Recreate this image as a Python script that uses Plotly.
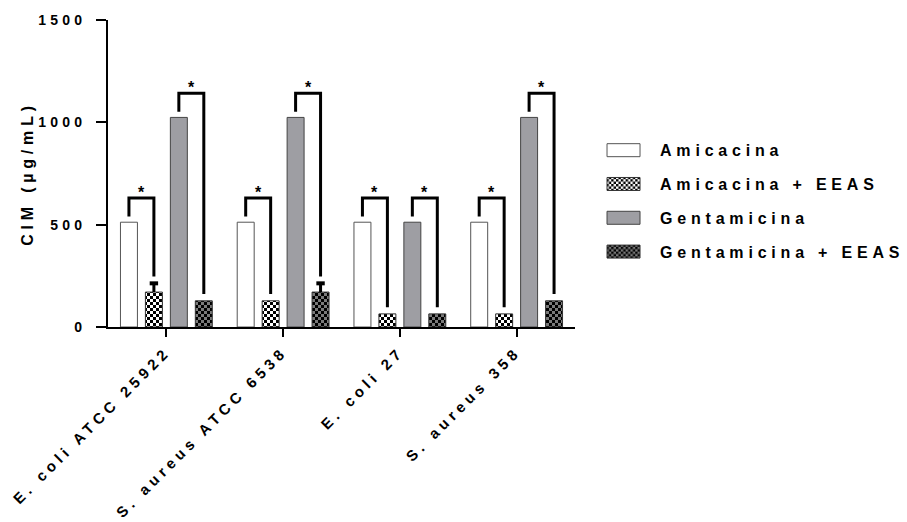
import plotly.graph_objects as go

categories = ["E. coli ATCC 25922", "S. aureus ATCC 6538", "E. coli 27", "S. aureus 358"]
series_names = ["Amicacina", "Amicacina + EEAS", "Gentamicina", "Gentamicina + EEAS"]
amicacina = [512, 512, 512, 512]
amicacina_eeas = [170.67, 128, 64, 64]
amicacina_eeas_sem = [42.67, 0, 0, 0]
gentamicina = [1024, 1024, 512, 1024]
gentamicina_eeas = [128, 170.67, 64, 128]
gentamicina_eeas_sem = [0, 42.67, 0, 0]
y_ticks = [0, 500, 1000, 1500]
significance = ["*", "*", "*", "*", "*", "*", "*", "*"]

values = [amicacina, amicacina_eeas, gentamicina, gentamicina_eeas]
errors = [[0, 0, 0, 0], amicacina_eeas_sem, [0, 0, 0, 0], gentamicina_eeas_sem]

FONT = "Liberation Sans, Arial, sans-serif"
BARGAP = 0.145
BARGROUPGAP = 0.32
slot = (1 - BARGAP) / 4
offsets = [(i - 1.5) * slot for i in range(4)]

styles = [
    dict(color="white", line=dict(color="#555555", width=1)),
    dict(color="white", line=dict(color="#333333", width=1),
         pattern=dict(shape=".", fgcolor="black", bgcolor="white", size=6, solidity=0.5)),
    dict(color="#9e9ea3", line=dict(color="#444444", width=1)),
    dict(color="#777777", line=dict(color="#333333", width=1),
         pattern=dict(shape=".", fgcolor="black", bgcolor="#7a7a7a", size=6, solidity=0.5)),
]

fig = go.Figure()
for i, (name, vals) in enumerate(zip(series_names, values)):
    fig.add_trace(go.Bar(x=categories, y=vals, name=name, marker=styles[i],
                         legendgroup=name, hoverinfo="skip"))

shapes = []
annotations = []
CAP = 0.036
k = 0
for c in range(len(categories)):
    # error bars (upward only)
    for s in range(4):
        e = errors[s][c]
        if e > 0:
            x = c + offsets[s]
            top = values[s][c] + e
            shapes.append(dict(type="path", xref="x", yref="y",
                               path=f"M{x},{values[s][c]} L{x},{top}",
                               line=dict(color="black", width=3)))
            shapes.append(dict(type="path", xref="x", yref="y",
                               path=f"M{x-CAP},{top} L{x+CAP},{top}",
                               line=dict(color="black", width=4)))
    # significance brackets
    for a, b in [(0, 1), (2, 3)]:
        xa = c + offsets[a]
        xb = c + offsets[b]
        ta = values[a][c] + errors[a][c]
        tb = values[b][c] + errors[b][c]
        h = max(ta, tb) + 118
        shapes.append(dict(type="path", xref="x", yref="y",
                           path=f"M{xa},{ta+28} L{xa},{h} L{xb},{h} L{xb},{tb+33}",
                           line=dict(color="black", width=3)))
        annotations.append(dict(x=(xa + xb) / 2, y=h, xref="x", yref="y",
                                text=significance[k], showarrow=False, yanchor="bottom",
                                yshift=-5, font=dict(family=FONT, size=16, color="black", weight="bold")))
        k += 1

fig.update_layout(
    width=907, height=522,
    margin=dict(l=108, r=332, t=18, b=195),
    paper_bgcolor="white", plot_bgcolor="white",
    barmode="group", bargap=BARGAP, bargroupgap=BARGROUPGAP,
    font=dict(family=FONT, size=14, color="black", weight="bold"),
    showlegend=True,
    legend=dict(x=1.0964, y=0.631, xanchor="left", yanchor="top",
                traceorder="grouped", tracegroupgap=10,
                font=dict(family=FONT, size=16, color="black", weight="bold"),
                bgcolor="rgba(0,0,0,0)"),
    shapes=shapes, annotations=annotations,
    hovermode=False,
)
fig.update_xaxes(type="category", range=[-0.5, 3.5], showline=True, linewidth=2, linecolor="black",
                 ticks="outside", ticklen=8, tickwidth=2, tickcolor="black", tickangle=-45,
                 showgrid=False, zeroline=False,
                 tickfont=dict(family=FONT, size=15, color="black", weight="bold"))
fig.update_yaxes(range=[0, 1500], tickvals=y_ticks, showline=True, linewidth=2, linecolor="black",
                 ticks="outside", ticklen=10, tickwidth=2, tickcolor="black",
                 ticklabelstandoff=7,
                 showgrid=False, zeroline=False,
                 tickfont=dict(family=FONT, size=14, color="black", weight="bold"),
                 title=dict(text="CIM (µg/mL)", standoff=17,
                            font=dict(family=FONT, size=16, color="black", weight="bold")))

post = r"""
var gd = document.getElementById('{plot_id}');
gd.querySelectorAll('.xtick text, .ytick text, .g-ytitle text, .legendtext').forEach(function(t){
  t.style.letterSpacing = '0.3em';
});
gd.querySelectorAll('.legend [clip-path]').forEach(function(e){ e.removeAttribute('clip-path'); });
gd.querySelectorAll('pattern').forEach(function(p){
  var r = p.querySelector('rect');
  var c = p.querySelector('circle');
  var bg = r ? (r.getAttribute('fill') || r.style.fill) : 'white';
  var fg = c ? (c.getAttribute('fill') || c.style.fill) : 'black';
  p.setAttribute('width', '6'); p.setAttribute('height', '6');
  p.innerHTML = '<rect x="0" y="0" width="6" height="6" fill="' + bg + '"></rect>' +
                '<rect x="0" y="0" width="3" height="3" fill="' + fg + '"></rect>' +
                '<rect x="3" y="3" width="3" height="3" fill="' + fg + '"></rect>';
});
gd.querySelectorAll('.legendpoints path').forEach(function(p){
  p.setAttribute('d', 'M0,6.5H-33V-6.5H0Z');
});
"""

fig.write_html("out.html", post_script=post, config=dict(staticPlot=True))
